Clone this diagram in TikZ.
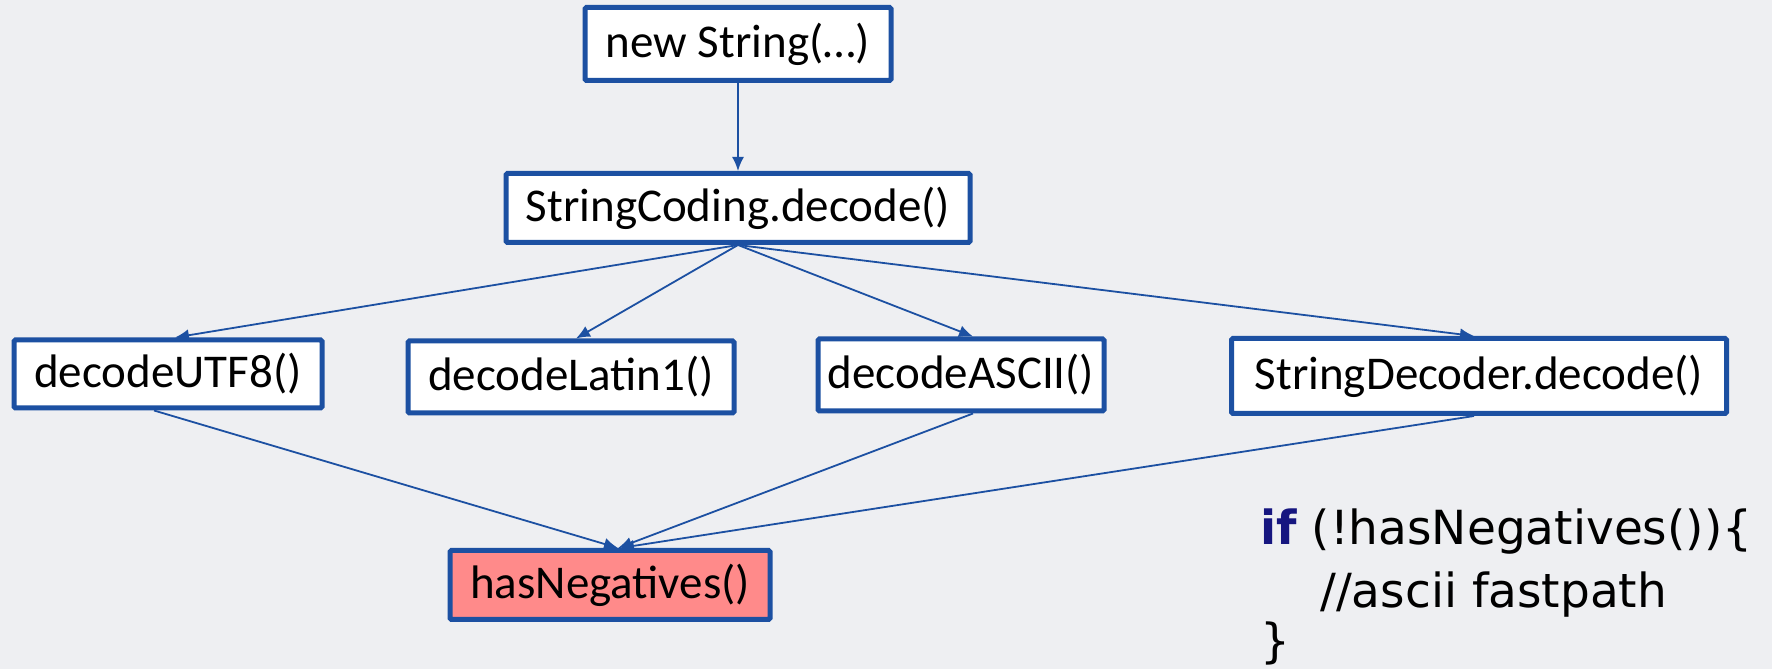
\documentclass[tikz,border=0pt]{standalone}
\usepackage{fontspec}
\setmainfont{Carlito}
\newfontfamily\codefont{DejaVu Sans}
\usetikzlibrary{arrows.meta}
\definecolor{bgc}{RGB}{238,239,242}
\definecolor{boxblue}{RGB}{28,80,162}
\definecolor{pinkfill}{RGB}{255,138,138}
\definecolor{kwnavy}{RGB}{22,22,128}
\tikzset{
  fnbox/.style={draw=boxblue, line width=5pt, rounded corners=1.5pt, fill=white, inner sep=0pt,
    font=\fontsize{47}{56}\selectfont, text=black},
  conn/.style={draw=boxblue, line width=1.8pt, -{Latex[length=14pt,width=12pt]}},
  codeline/.style={anchor=base west, inner sep=0pt, font=\codefont\fontsize{47}{57}\selectfont, text=black}
}
\begin{document}
\begin{tikzpicture}[x=1pt,y=1pt]
\useasboundingbox[fill=bgc] (0,0) rectangle (1772,669);
\node[fnbox, minimum width=306pt, minimum height=73pt] (ns) at (738,625) {new String(…)};
\node[fnbox, minimum width=464pt, minimum height=69pt] (sc) at (738,461) {StringCoding.decode()};
\node[fnbox, minimum width=308pt, minimum height=68pt] (utf) at (168,295) {decodeUTF8()};
\node[fnbox, minimum width=326pt, minimum height=72pt] (lat) at (571,292) {decodeLatin1()};
\node[fnbox, minimum width=286pt, minimum height=72pt] (asc) at (961,294) {decodeASCII()};
\node[fnbox, minimum width=495pt, minimum height=75pt] (sd) at (1479,293) {StringDecoder.decode()};
\node[fnbox, fill=pinkfill, minimum width=320pt, minimum height=69pt] (hn) at (610,84) {hasNegatives()};
\draw[conn] (ns.south) -- (sc.north);
\draw[conn] (sc.south) -- ([xshift=7pt]utf.north);
\draw[conn] (sc.south) -- ([xshift=5pt]lat.north);
\draw[conn] (sc.south) -- ([xshift=12pt]asc.north);
\draw[conn] (sc.south) -- ([xshift=-5pt]sd.north);
\draw[conn] ([xshift=-14pt]utf.south) -- ([xshift=8pt]hn.north);
\draw[conn] ([xshift=12pt]asc.south) -- ([xshift=8pt]hn.north);
\draw[conn] ([xshift=-5pt]sd.south) -- ([xshift=10pt]hn.north);
\node[codeline] (c1) at (1260,124) {{\color{kwnavy}\bfseries if} (!hasNegatives()){\{}};
\node[codeline] (c2) at (1320,61) {//ascii fastpath};
\node[codeline] (c3) at (1260,11) {\}};
\end{tikzpicture}
\end{document}
